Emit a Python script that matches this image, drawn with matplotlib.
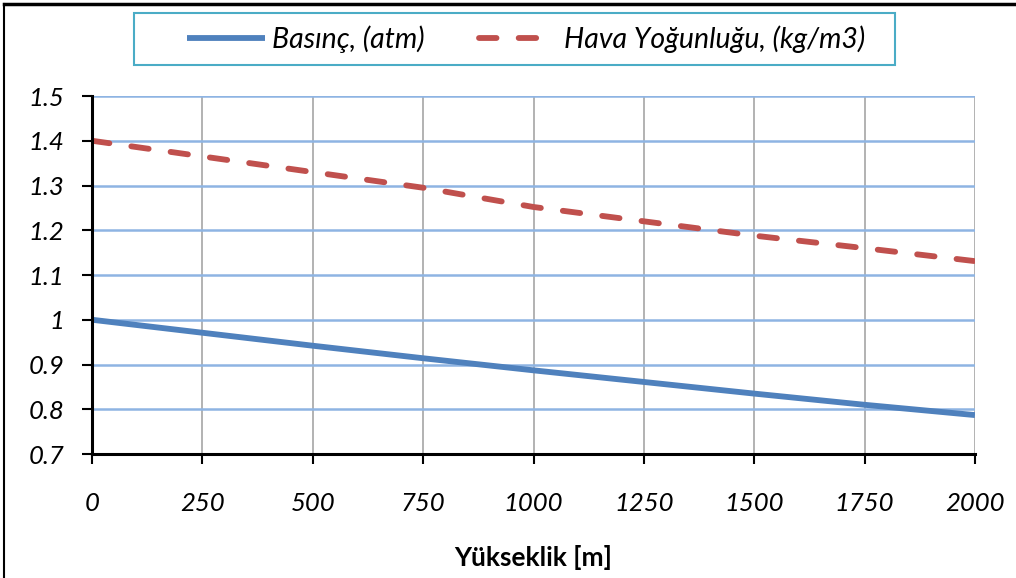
import matplotlib.pyplot as plt
from matplotlib.lines import Line2D
from matplotlib.patches import Rectangle

# altitude [m] and values
yukseklik = [0, 250, 500, 750, 1000, 1250, 1500, 1750, 2000]
basinc = [1.0, 0.971, 0.942, 0.914, 0.887, 0.861, 0.835, 0.810, 0.787]
yogunluk = [1.40, 1.365, 1.330, 1.295, 1.252, 1.220, 1.188, 1.160, 1.131]

xticks = [0, 250, 500, 750, 1000, 1250, 1500, 1750, 2000]
yticks = [0.7, 0.8, 0.9, 1.0, 1.1, 1.2, 1.3, 1.4, 1.5]
ytick_labels = ["0.7", "0.8", "0.9", "1", "1.1", "1.2", "1.3", "1.4", "1.5"]

plt.rcParams['font.family'] = ['Lato', 'DejaVu Sans']

W, H = 1016, 578
fig = plt.figure(figsize=(W / 100, H / 100), dpi=100)
ax = fig.add_axes([0.0906, 0.2145, 0.869, 0.6194])

ax.plot(yukseklik, basinc, color='#4F81BD', lw=4.2, label="Basınç, (atm)",
        solid_capstyle='butt')
ax.plot(yukseklik, yogunluk, color='#C0504D', lw=4.2, dashes=(3.0, 3.8),
        dash_capstyle='round', label="Hava Yoğunluğu, (kg/m3)")

ax.set_xlim(0, 2000)
ax.set_ylim(0.7, 1.5)
ax.set_xticks(xticks)
ax.set_yticks(yticks)
ax.set_yticklabels(ytick_labels)

# grid: gray verticals, blue horizontals
for x in xticks[1:]:
    ax.axvline(x, color='#A6A6A6', lw=1.2, zorder=0)
for y in yticks[1:]:
    ax.axhline(y, color='#8EB4E3', lw=1.8, zorder=0)

for s in ['top', 'right']:
    ax.spines[s].set_visible(False)
ax.spines['left'].set_linewidth(2.2)
ax.spines['bottom'].set_linewidth(2.2)

ax.tick_params(axis='both', direction='out', length=7, width=1.5, labelsize=18.5)
ax.tick_params(axis='x', pad=20)
ax.tick_params(axis='y', pad=13)
for lab in ax.get_xticklabels() + ax.get_yticklabels():
    lab.set_fontstyle('italic')

ax.set_xlabel("Yükseklik [m]", fontsize=19, fontweight='bold', labelpad=22)

# legend without its own frame; frame drawn as a separate box
leg = fig.legend(loc='center', bbox_to_anchor=(0.518, 0.933), ncol=2, fontsize=20.5,
                 frameon=False, handlelength=2.75, columnspacing=1.9,
                 handletextpad=0.25, borderaxespad=0)
for t in leg.get_texts():
    t.set_fontstyle('italic')
fig.add_artist(Rectangle((134 / W, 1 - 65 / H), (895 - 134) / W, 52 / H,
                         transform=fig.transFigure, fill=False,
                         edgecolor='#4BACC6', lw=1.5))

# outer frame: top and left edges
fig.add_artist(Line2D([0.004, 1.0], [0.993, 0.993], color='black', lw=2.5))
fig.add_artist(Line2D([0.004, 0.004], [0.0, 0.993], color='black', lw=1.5))

fig.savefig('out.png', dpi=100)
